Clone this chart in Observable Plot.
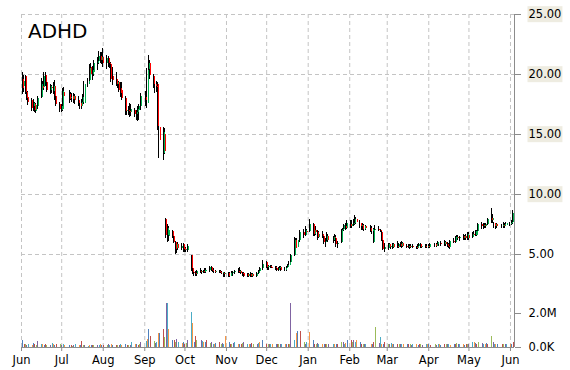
<!DOCTYPE html>
<html><head><meta charset="utf-8">
<script src="https://cdn.jsdelivr.net/npm/d3@7"></script>
<script src="https://cdn.jsdelivr.net/npm/@observablehq/plot@0.6"></script>
<style>
body{margin:0;background:#fff;}
#chart{position:relative;width:570px;height:370px;font-family:"DejaVu Sans",sans-serif;overflow:hidden;}
#chart svg{position:absolute;left:0;top:0;}
#title{position:absolute;left:28px;top:21px;font-size:20px;line-height:20px;color:#000;z-index:5;}
</style></head><body>
<div id="chart"><div id="title">ADHD</div></div>
<script>
const ticker = "ADHD";
const priceTicks = [5, 10, 15, 20, 25];
const shadedTicks = ["10.00", "15.00", "20.00", "25.00"];
const volTicks = [0, 2000000];
const monthTicks = ["2014-06-01","2014-07-01","2014-08-01","2014-09-01","2014-10-01","2014-11-01","2014-12-01","2015-01-01","2015-02-01","2015-03-01","2015-04-01","2015-05-01","2015-06-01"];
const xDomain = ["2014-06-01", "2015-06-04"];
const holidays = ["2014-07-04","2014-09-01","2014-11-27","2014-12-25","2015-01-01","2015-01-19","2015-02-16","2015-04-03","2015-05-25"];
const volPalette = ["#4f81bd","#c0504d","#9bbb59","#8064a2","#4bacc6","#f79646"];

// [open, high, low, close] per trading day
const jun14 = [[19.6,20.2,18.3,18.8],[19.0,19.9,18.5,19.4],[19.8,19.9,18.3,18.5],[18.5,18.9,17.8,18.0],[18.1,18.6,17.4,17.7],[17.8,18.0,16.9,17.2],[17.3,17.9,16.9,17.6],[17.5,17.7,16.8,17.0],[16.9,17.6,16.75,17.4],[17.3,18.2,17.1,18.0],[18.1,19.7,18.0,19.2],[19.0,19.4,18.6,18.8],[18.9,20.2,18.7,19.8],[19.9,20.2,19.0,19.3],[19.3,19.5,18.5,18.7],[18.7,19.2,18.3,19.0],[18.9,19.1,18.4,18.8],[18.6,19.3,18.3,19.0],[19.0,19.5,17.8,18.2],[18.2,18.4,17.3,17.5],[17.5,17.7,16.8,17.1]];
const jul14 = [[17.0,17.5,16.8,17.3],[17.1,18.8,16.9,18.6],[18.5,18.9,17.9,18.2],[18.3,18.7,17.6,17.9],[18.0,18.5,17.8,18.1],[18.2,18.4,17.7,17.9],[17.9,18.4,17.6,18.2],[18.2,18.3,17.5,17.8],[17.8,18.2,17.3,17.6],[17.6,17.8,17.1,17.3],[17.3,17.9,17.1,17.7],[17.7,18.3,17.5,18.1],[17.6,19.4,17.5,19.2],[19.2,19.7,18.9,19.4],[19.5,20.8,19.3,20.5],[20.6,20.9,19.7,20.0],[20.0,20.7,19.5,20.3],[20.2,21.2,19.8,20.9],[20.9,21.4,20.3,21.1],[21.1,21.9,20.8,21.5],[21.5,21.8,20.9,21.2],[21.2,21.8,20.8,21.4]];
const aug14 = [[21.4,22.2,20.6,20.9],[20.9,21.6,20.4,21.3],[21.3,21.5,20.6,20.9],[20.9,21.2,20.5,20.8],[20.8,21.0,19.3,19.6],[19.8,20.6,19.1,19.5],[19.6,20.2,19.0,19.2],[19.2,19.6,18.8,19.3],[19.3,19.4,18.5,18.7],[18.8,19.3,18.1,18.4],[18.7,19.3,17.8,18.0],[18.0,18.2,16.6,16.9],[16.9,17.4,16.6,17.0],[17.0,17.3,16.6,16.9],[16.9,17.6,16.4,16.8],[16.8,17.5,16.5,17.1],[17.0,17.2,16.4,16.7],[16.7,17.0,16.2,16.8],[16.8,17.3,16.1,17.1],[17.0,17.5,16.2,17.3],[17.3,18.4,17.0,18.2]];
const sep14 = [[18.1,18.6,17.3,17.8],[17.6,20.5,17.2,20.3],[20.4,21.6,19.8,20.9],[20.9,21.2,19.6,19.9],[19.8,20.0,18.8,19.2],[19.2,19.6,18.4,19.0],[19.0,19.4,18.5,18.9],[19.2,19.3,15.3,15.7],[15.6,15.9,13.0,14.5],[13.4,15.6,12.8,15.2],[15.0,15.5,13.3,13.6],[7.9,8.0,6.3,6.6],[6.6,7.5,6.0,7.2],[6.5,7.3,6.1,7.0],[6.9,7.0,6.3,6.5],[6.5,6.7,5.9,6.0],[6.0,6.1,5.0,5.4],[5.5,6.0,5.1,5.8],[5.8,6.0,5.3,5.5],[5.5,5.9,5.3,5.7],[5.8,5.9,5.2,5.4]];
const oct14 = [[5.5,5.7,5.2,5.3],[5.3,5.6,5.2,5.4],[5.3,5.8,5.2,5.7],[4.9,4.95,3.6,3.8],[3.8,4.1,3.3,3.5],[3.5,3.7,3.2,3.4],[3.4,3.6,3.2,3.3],[3.3,3.7,3.2,3.6],[3.6,3.8,3.4,3.5],[3.5,3.7,3.3,3.6],[3.6,3.7,3.4,3.5],[3.5,3.8,3.4,3.7],[3.6,3.8,3.4,3.7],[3.7,4.0,3.5,3.9],[3.9,4.0,3.6,3.7],[3.7,3.8,3.5,3.6],[3.6,3.8,3.4,3.5],[3.5,3.7,3.4,3.6],[3.6,3.7,3.4,3.5],[3.5,3.7,3.4,3.4],[3.4,3.6,3.3,3.5],[3.4,3.5,3.1,3.3],[3.3,3.5,3.1,3.4]];
const nov14 = [[3.4,3.5,3.1,3.2],[3.2,3.5,3.1,3.4],[3.4,3.6,3.2,3.4],[3.4,3.6,3.2,3.5],[3.5,3.7,3.3,3.6],[3.6,3.8,3.4,3.5],[3.5,3.9,3.4,3.6],[3.6,3.7,3.3,3.4],[3.4,3.5,3.2,3.3],[3.4,3.5,3.1,3.2],[3.3,3.4,3.1,3.2],[3.2,3.4,3.1,3.3],[3.3,3.5,3.1,3.2],[3.2,3.4,3.1,3.3],[3.3,3.4,3.1,3.2],[3.2,3.5,3.1,3.4],[3.4,3.7,3.3,3.6],[3.6,3.9,3.4,3.8],[3.8,4.5,3.7,4.2]];
const dec14 = [[4.3,4.4,3.8,3.9],[3.9,4.1,3.7,4.0],[3.9,4.1,3.7,4.0],[4.0,4.1,3.8,3.9],[3.95,4.1,3.8,3.85],[3.9,4.0,3.7,3.8],[3.8,4.0,3.6,3.7],[3.7,3.9,3.6,3.8],[3.8,4.0,3.7,3.9],[3.9,4.0,3.6,3.7],[3.7,3.9,3.6,3.8],[3.8,4.0,3.6,3.9],[3.9,4.2,3.8,4.1],[4.1,4.4,4.0,4.3],[4.3,5.0,4.2,4.9],[4.9,6.4,4.8,6.2],[6.2,6.3,5.1,5.5],[5.6,6.3,5.5,6.2],[6.2,7.0,6.0,6.8],[6.8,7.1,6.3,6.6],[6.6,7.3,6.5,7.0],[6.9,7.1,6.6,6.8]];
const jan15 = [[6.9,7.9,6.8,7.5],[7.5,7.6,6.5,6.7],[6.7,7.2,6.5,7.0],[7.0,7.3,6.6,6.8],[6.8,7.0,6.2,6.4],[6.4,6.9,6.3,6.7],[6.7,6.9,6.3,6.5],[6.5,6.6,5.8,6.0],[6.0,6.3,5.6,6.1],[6.2,6.8,6.0,6.5],[6.5,6.7,6.0,6.2],[6.2,6.5,5.9,6.4],[6.4,6.7,6.1,6.3],[6.3,6.6,5.6,5.8],[5.8,6.1,5.5,5.9],[6.0,7.1,5.9,7.0],[7.0,7.2,6.8,7.1],[7.1,7.5,6.9,7.4],[7.3,7.6,7.0,7.2],[7.2,7.8,7.1,7.6]];
const feb15 = [[7.5,7.8,7.2,7.3],[7.3,7.8,7.2,7.5],[7.5,7.9,7.3,7.6],[7.6,8.25,7.4,7.9],[7.9,8.1,7.5,7.7],[7.6,7.8,7.2,7.3],[7.3,7.6,7.0,7.4],[7.4,7.6,7.0,7.1],[7.1,7.5,6.9,7.3],[7.3,7.4,7.0,7.2],[7.2,7.4,6.8,6.9],[6.9,7.3,6.7,7.1],[6.0,7.2,5.9,7.0],[7.0,7.4,6.8,7.1],[7.1,7.3,6.9,7.0],[7.0,7.1,6.8,6.9],[6.8,6.9,6.1,6.2],[6.2,6.5,5.3,5.4],[5.4,5.9,5.2,5.6]];
const mar15 = [[5.5,5.9,5.3,5.8],[5.8,5.9,5.5,5.6],[5.6,5.8,5.4,5.7],[5.6,5.9,5.4,5.8],[5.8,5.9,5.5,5.6],[5.7,6.1,5.5,5.6],[5.6,5.9,5.5,5.8],[5.8,6.0,5.6,5.7],[5.7,6.1,5.5,5.9],[5.9,6.0,5.6,5.7],[5.7,5.8,5.5,5.6],[5.6,5.8,5.5,5.7],[5.7,5.8,5.4,5.6],[5.6,5.8,5.5,5.7],[5.7,5.8,5.5,5.6],[5.6,5.7,5.45,5.5],[5.5,5.8,5.4,5.7],[5.7,5.9,5.5,5.8],[5.8,5.9,5.5,5.6],[5.6,5.8,5.5,5.7],[5.7,5.8,5.5,5.6],[5.6,5.8,5.5,5.7]];
const apr15 = [[5.7,5.8,5.5,5.6],[5.6,5.9,5.5,5.8],[5.8,5.9,5.6,5.7],[5.7,5.9,5.6,5.8],[5.8,6.1,5.7,6.0],[5.9,6.0,5.7,5.9],[5.9,6.1,5.7,5.8],[5.8,6.2,5.7,6.0],[6.0,6.1,5.7,5.8],[5.8,6.0,5.6,5.7],[5.7,5.9,5.5,5.6],[5.6,6.2,5.4,6.1],[6.1,6.3,5.9,6.0],[6.0,6.5,5.9,6.4],[6.3,6.6,6.1,6.4],[6.4,6.6,6.2,6.3],[6.3,6.5,6.1,6.4],[6.5,6.7,6.2,6.3],[6.3,6.6,6.2,6.5],[6.5,6.7,6.2,6.3],[6.3,6.8,6.2,6.7]];
const may15 = [[6.6,6.8,6.2,6.3],[6.4,6.8,6.3,6.7],[6.7,6.9,6.4,6.6],[6.6,7.0,6.5,6.9],[6.6,7.0,6.5,6.9],[6.9,7.6,6.8,7.5],[7.5,7.7,7.1,7.3],[7.3,7.6,7.1,7.4],[7.4,7.6,7.2,7.3],[7.3,7.6,7.2,7.5],[7.5,8.0,7.4,7.9],[8.0,8.8,7.6,7.8],[7.8,8.3,7.6,8.0],[7.6,7.7,7.2,7.3],[7.3,7.6,7.1,7.5],[7.5,7.6,7.2,7.3],[7.3,7.5,7.2,7.4],[7.4,7.7,7.2,7.3],[7.3,7.6,7.2,7.5],[7.4,7.7,7.3,7.6]];
const jun15 = [[7.5,7.7,7.3,7.6],[7.6,7.8,7.4,7.7],[7.7,8.7,7.5,8.4]];

// daily volume, thousands of shares
const vJun14 = [400,150,200,120,180,100,220,150,120,340,200,150,100,180,120,100,230,180,120,150,200];
const vJul14 = [120,200,100,100,120,80,100,150,100,120,340,120,100,80,100,120,100,100,120,100,150,120];
const vAug14 = [100,120,150,100,150,100,120,100,120,200,120,150,100,120,100,300,150,200,120,180,300];
const vSep14 = [340,500,1040,640,350,250,300,840,800,1040,600,2560,2560,1040,400,400,300,500,300,250,300];
const vOct14 = [200,250,440,2080,1440,300,640,400,400,350,300,300,400,250,300,200,200,250,300,200,250,200,640];
const vNov14 = [300,200,150,250,300,150,200,200,250,300,200,150,200,250,200,200,250,300,440];
const vDec14 = [200,150,200,150,200,150,150,150,200,150,150,200,150,200,2560,400,800,940,940,300,150,300];
const vJan15 = [900,400,200,150,250,150,200,150,150,200,150,150,200,150,150,300,300,200,250,440];
const vFeb15 = [440,300,440,300,440,300,200,150,200,150,150,200,300,1200,250,560,200,200,300];
const vMar15 = [200,150,250,200,150,200,150,200,150,150,200,150,150,100,150,150,100,200,150,100,150,150];
const vApr15 = [150,100,150,100,200,150,100,150,150,200,150,100,150,200,250,150,200,150,100,150,200];
const vMay15 = [200,300,300,250,200,300,250,200,150,250,200,640,300,200,150,200,150,200,150,200];
const vJun15 = [150,200,300];

const monthTable = [
  ["2014-06", jun14, vJun14], ["2014-07", jul14, vJul14], ["2014-08", aug14, vAug14],
  ["2014-09", sep14, vSep14], ["2014-10", oct14, vOct14], ["2014-11", nov14, vNov14],
  ["2014-12", dec14, vDec14], ["2015-01", jan15, vJan15], ["2015-02", feb15, vFeb15],
  ["2015-03", mar15, vMar15], ["2015-04", apr15, vApr15], ["2015-05", may15, vMay15],
  ["2015-06", jun15, vJun15]
];

const fmtDay = d3.utcFormat("%Y-%m-%d");
function tradingDays(ym) {
  const start = new Date(ym + "-01T00:00:00Z");
  const end = d3.utcMonth.offset(start, 1);
  return d3.utcDays(start, end).filter(d => d.getUTCDay() % 6 !== 0 && !holidays.includes(fmtDay(d)));
}
const candles = [];
let k = 0;
for (const [ym, rows, vols] of monthTable) {
  const days = tradingDays(ym);
  rows.forEach((r, i) => {
    candles.push({date: days[i], open: r[0], high: r[1], low: r[2], close: r[3], vol: vols[i] * 1000, idx: k++});
  });
}

const W = 570, H = 370;
const xd = xDomain.map(s => new Date(s + "T00:00:00Z"));
const mt = monthTicks.map(s => new Date(s + "T00:00:00Z"));
const gridColor = "#c4c4c4";
const axisColor = "#8c8c8c";
const green = "#00b050", red = "#ff0000";
const baseStyle = {background: "transparent", fontFamily: "DejaVu Sans, sans-serif", overflow: "visible"};

const volChart = Plot.plot({
  width: W, height: H,
  marginLeft: 21, marginRight: 56, marginTop: 14, marginBottom: 23,
  style: baseStyle,
  x: {type: "utc", domain: xd},
  y: {domain: [0, 333 / 34 * 2000000]},
  marks: [
    Plot.ruleX(mt, {stroke: gridColor, strokeDasharray: "4,3"}),
    Plot.ruleX(candles, {x: "date", y1: 0, y2: "vol", stroke: d => volPalette[d.idx % 6], strokeWidth: 1, shapeRendering: "crispEdges"}),
    Plot.ruleY([0], {stroke: axisColor}),
    Plot.ruleX([xd[1]], {stroke: axisColor}),
    Plot.axisX(mt, {tickFormat: d3.utcFormat("%b"), tickSize: 4, tickPadding: 4, fontSize: 11.5, stroke: axisColor, fill: "#000", label: null}),
    Plot.axisY(volTicks, {anchor: "right", tickSize: 6, tickPadding: 8, fontSize: 11.5, stroke: axisColor, fill: "#000", label: null,
      tickFormat: d => d >= 1e6 ? (d / 1e6).toFixed(1) + "M" : (d / 1e3).toFixed(1) + "K"})
  ]
});

const priceChart = Plot.plot({
  width: W, height: H,
  marginLeft: 21, marginRight: 56, marginTop: 14, marginBottom: 56,
  style: baseStyle,
  x: {type: "utc", domain: xd, axis: null},
  y: {domain: [0, 25]},
  marks: [
    Plot.ruleY(priceTicks, {stroke: gridColor, strokeDasharray: "4,3"}),
    Plot.ruleX(candles, {x: "date", y1: "low", y2: "high", stroke: "#000", strokeWidth: 1, dx: -0.5, shapeRendering: "crispEdges"}),
    Plot.ruleX(candles, {x: "date", y1: "open", y2: "close", stroke: d => d.close >= d.open ? green : red, strokeWidth: 1, dx: 0.6, shapeRendering: "crispEdges"}),
    Plot.axisY(priceTicks, {anchor: "right", tickSize: 6, tickPadding: 8, fontSize: 11.5, stroke: axisColor, fill: "#000", label: null,
      tickFormat: d => d.toFixed(2)})
  ]
});

const chart = document.getElementById("chart");
chart.insertBefore(volChart, chart.firstChild);
chart.insertBefore(priceChart, document.getElementById("title"));

// beige label backgrounds behind some price tick labels
const svgRect = priceChart.getBoundingClientRect();
const firstChild = priceChart.querySelector("g");
d3.select(priceChart).selectAll("text").each(function() {
  if (!shadedTicks.includes(this.textContent)) return;
  const b = this.getBoundingClientRect();
  const r = document.createElementNS("http://www.w3.org/2000/svg", "rect");
  r.setAttribute("x", b.left - svgRect.left - 1);
  r.setAttribute("y", b.top - svgRect.top - 1);
  r.setAttribute("width", b.width + 2);
  r.setAttribute("height", b.height + 2);
  r.setAttribute("fill", "#eeece1");
  priceChart.insertBefore(r, firstChild);
});
</script>
</body></html>
